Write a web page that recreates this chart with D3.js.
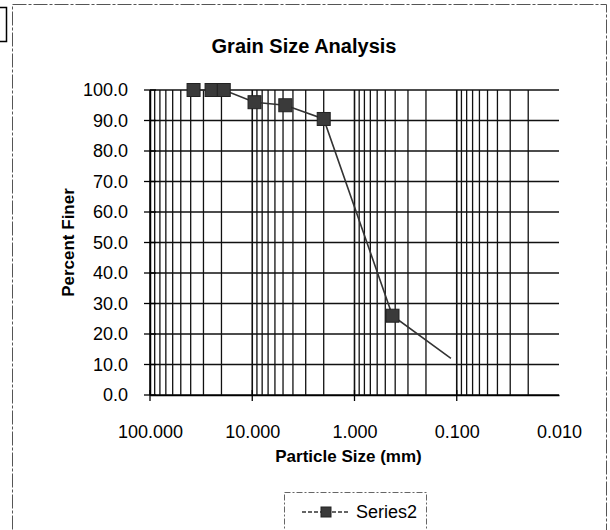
<!DOCTYPE html>
<html>
<head>
<meta charset="utf-8">
<script src="https://cdn.jsdelivr.net/npm/d3@7/dist/d3.min.js"></script>
<style>
  html, body { margin: 0; padding: 0; background: #fff; }
  svg { display: block; font-family: "Liberation Sans", Arial, sans-serif; }
</style>
</head>
<body>
<svg id="chart" width="610" height="530"></svg>
<script>
// ---- Data ----
const particleSize = [37.5, 25, 19, 9.5, 4.75, 2.0, 0.425, 0.114];
const percentFiner = [100, 100, 100, 96, 95, 90.5, 26, 12];
const showMarker   = [true, true, true, true, true, true, true, false];
const yTicks = [0, 10, 20, 30, 40, 50, 60, 70, 80, 90, 100];
const xTicks = [100, 10, 1, 0.1, 0.01];
const seriesName = "Series2";

// ---- Layout ----
const svg = d3.select("#chart");
const L = 150, R = 559, T = 90, B = 395;

const x = d3.scaleLog().domain([100, 0.01]).range([L, R]);
const y = d3.scaleLinear().domain([0, 100]).range([B, T]);

// Outer chart border
svg.append("rect").attr("x", 12.5).attr("y", 4.5).attr("width", 594).attr("height", 540)
  .attr("fill", "none").attr("stroke", "#555").attr("stroke-width", 1)
  .attr("stroke-dasharray", "14,2,3,2");
// small bracket at top-left (neighbouring element)
svg.append("path").attr("d", "M0,7.5 H6.5 V41.5 H0").attr("fill", "none")
  .attr("stroke", "#000").attr("stroke-width", 1.5);

// Title
svg.append("text").attr("x", 304).attr("y", 53).attr("text-anchor", "middle")
  .attr("font-size", 20).attr("font-weight", "bold").attr("fill", "#000")
  .text("Grain Size Analysis");

// Vertical log gridlines (minor + major), none at the far right edge
const vGrid = [];
[100, 10, 1, 0.1].forEach(dec => {
  for (let k = 2; k <= 9; k++) vGrid.push(dec / 10 * k);
});
[100, 10, 1, 0.1].forEach(d => vGrid.push(d));
svg.append("g").selectAll("line").data(vGrid).join("line")
  .attr("x1", d => x(d)).attr("x2", d => x(d))
  .attr("y1", T).attr("y2", B)
  .attr("stroke", "#111").attr("stroke-width", d => (Math.abs(Math.log10(d) - Math.round(Math.log10(d))) < 1e-9) ? 1.6 : 1.3);

// Horizontal gridlines
svg.append("g").selectAll("line").data(yTicks).join("line")
  .attr("x1", L).attr("x2", R)
  .attr("y1", d => y(d)).attr("y2", d => y(d))
  .attr("stroke", "#111").attr("stroke-width", 1.5);

// Y axis
const yAxis = d3.axisLeft(y).tickValues(yTicks).tickSize(0).tickPadding(22)
  .tickFormat(d3.format(".1f"));
const gy = svg.append("g").attr("transform", `translate(${L},0)`).call(yAxis);
gy.select(".domain").attr("stroke", "#000").attr("stroke-width", 1.5);
gy.selectAll("text").attr("font-size", 18).attr("fill", "#000")
  .attr("font-family", "Liberation Sans, Arial, sans-serif");
svg.append("g").selectAll("line").data(yTicks).join("line")
  .attr("x1", L - 6).attr("x2", L + 6)
  .attr("y1", d => y(d)).attr("y2", d => y(d))
  .attr("stroke", "#000").attr("stroke-width", 1.3);

// X axis
const xAxis = d3.axisBottom(x).tickValues(xTicks).tickSize(0).tickPadding(30)
  .tickFormat(d3.format(".3f"));
const gx = svg.append("g").attr("transform", `translate(0,${B})`).call(xAxis);
gx.select(".domain").attr("stroke", "#000").attr("stroke-width", 1.5);
gx.selectAll("text").attr("font-size", 18).attr("fill", "#000")
  .attr("font-family", "Liberation Sans, Arial, sans-serif");
svg.append("g").selectAll("line").data(xTicks.slice(0, 4)).join("line")
  .attr("x1", d => x(d)).attr("x2", d => x(d))
  .attr("y1", B - 5).attr("y2", B + 6)
  .attr("stroke", "#000").attr("stroke-width", 1.3);

// Axis titles
svg.append("text").attr("transform", `translate(74,${(T + B) / 2}) rotate(-90)`)
  .attr("text-anchor", "middle").attr("font-size", 17).attr("font-weight", "bold")
  .attr("fill", "#000").text("Percent Finer");
svg.append("text").attr("x", (L + R) / 2 - 6).attr("y", 462)
  .attr("text-anchor", "middle").attr("font-size", 17).attr("font-weight", "bold")
  .attr("fill", "#000").text("Particle Size (mm)");

// Series
const pts = particleSize.map((s, i) => ({ s, p: percentFiner[i], m: showMarker[i] }));
const line = d3.line().x(d => x(d.s)).y(d => y(d.p));
svg.append("path").datum(pts).attr("d", line)
  .attr("fill", "none").attr("stroke", "#333").attr("stroke-width", 1.6);
const ms = 13;
svg.append("g").selectAll("rect").data(pts.filter(d => d.m)).join("rect")
  .attr("x", d => x(d.s) - ms / 2).attr("y", d => y(d.p) - ms / 2)
  .attr("width", ms).attr("height", ms)
  .attr("fill", "#3a3a3a").attr("stroke", "#222").attr("stroke-width", 1);

// Legend
svg.append("rect").attr("x", 284.5).attr("y", 492.5).attr("width", 142).attr("height", 60)
  .attr("fill", "#fff").attr("stroke", "#666").attr("stroke-width", 1)
  .attr("stroke-dasharray", "6,2,2,2");
svg.append("line").attr("x1", 302).attr("x2", 350).attr("y1", 512).attr("y2", 512)
  .attr("stroke", "#333").attr("stroke-width", 1.4).attr("stroke-dasharray", "4,2");
svg.append("rect").attr("x", 326 - 5).attr("y", 512 - 5).attr("width", 10).attr("height", 10)
  .attr("fill", "#3a3a3a").attr("stroke", "#222");
svg.append("text").attr("x", 356).attr("y", 518).attr("font-size", 18).attr("fill", "#000")
  .text(seriesName);
</script>
</body>
</html>
